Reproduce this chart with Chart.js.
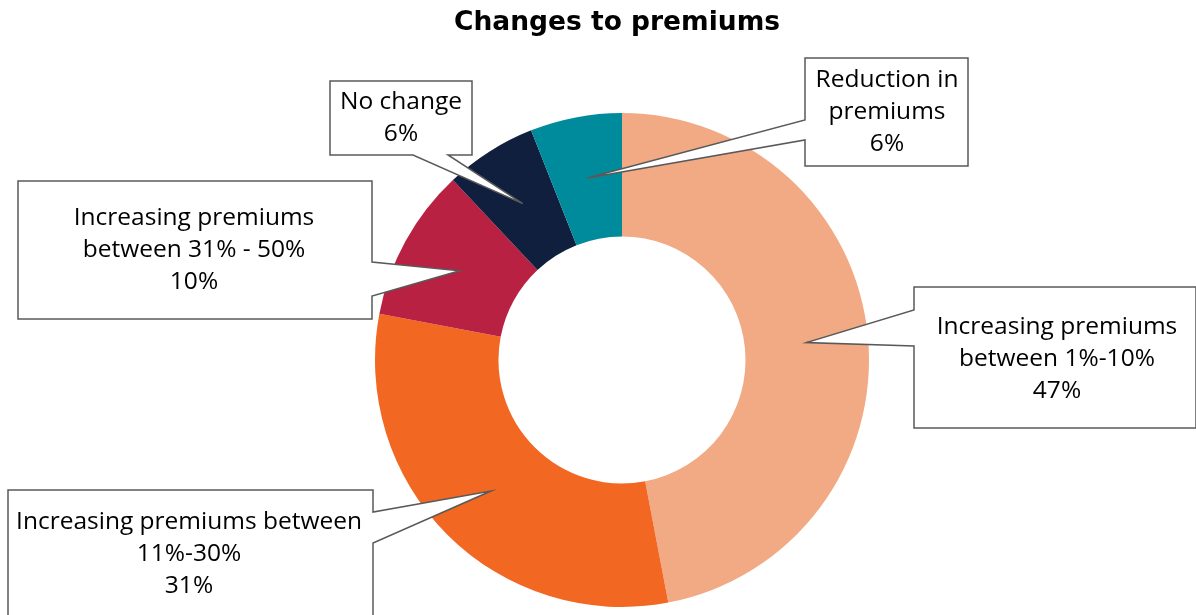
<!DOCTYPE html>
<html>
<head>
<meta charset="utf-8">
<script src="https://cdn.jsdelivr.net/npm/chart.js@4.4.1/dist/chart.umd.min.js"></script>
<style>
  html, body { margin: 0; padding: 0; background: #ffffff; }
  #wrap { width: 1196px; height: 615px; position: relative; }
</style>
</head>
<body>
<div id="wrap"><canvas id="chart" width="1196" height="615"></canvas></div>
<script>
// Survey answers, in drawing order (clockwise from 12 o'clock)
const categories = [
  'Increasing premiums between 1%-10%',
  'Increasing premiums between 11%-30%',
  'Increasing premiums between 31% - 50%',
  'No change',
  'Reduction in premiums'
];
const shares = [47, 31, 10, 6, 6];
const sliceColors = ['#F2AA84', '#F26722', '#B82142', '#0F1F3D', '#008B9C'];

// Callout text lines per slice
const calloutLines = [
  ['Increasing premiums', 'between 1%-10%', '47%'],
  ['Increasing premiums between', '11%-30%', '31%'],
  ['Increasing premiums', 'between 31% - 50%', '10%'],
  ['No change', '6%'],
  ['Reduction in', 'premiums', '6%']
];

// Callout box placement: box rect, side the pointer leaves from, and pointer base span
const calloutBoxes = [
  { x: 914, y: 287, w: 282, h: 141, side: 'left',   a: 310, b: 346, tx: 1057, ty: 327 },
  { x: 8,   y: 490, w: 365, h: 140, side: 'right',  a: 512, b: 543, tx: 189,  ty: 522 },
  { x: 18,  y: 181, w: 354, h: 138, side: 'right',  a: 262, b: 296, tx: 194,  ty: 218 },
  { x: 330, y: 81,  w: 142, h: 74,  side: 'bottom', a: 413, b: 448, tx: 401,  ty: 102 },
  { x: 805, y: 58,  w: 163, h: 108, side: 'left',   a: 120, b: 140, tx: 887,  ty: 80 }
];

const titleText = 'Changes to premiums';

const calloutPlugin = {
  id: 'callouts',
  afterDraw(chart) {
    const ctx = chart.ctx;
    const meta = chart.getDatasetMeta(0);
    ctx.save();
    // title
    ctx.fillStyle = '#000000';
    ctx.font = 'bold 26.5px "DejaVu Sans", sans-serif';
    ctx.textAlign = 'center';
    ctx.textBaseline = 'middle';
    ctx.fillText(titleText, 617, 23);

    meta.data.forEach((arc, i) => {
      const tip = arc.tooltipPosition();
      const bx = calloutBoxes[i];
      const x0 = bx.x, y0 = bx.y, x1 = bx.x + bx.w, y1 = bx.y + bx.h;
      ctx.beginPath();
      if (bx.side === 'left') {
        ctx.moveTo(x0, y0); ctx.lineTo(x1, y0); ctx.lineTo(x1, y1); ctx.lineTo(x0, y1);
        ctx.lineTo(x0, bx.b); ctx.lineTo(tip.x, tip.y); ctx.lineTo(x0, bx.a);
      } else if (bx.side === 'right') {
        ctx.moveTo(x0, y0); ctx.lineTo(x1, y0); ctx.lineTo(x1, bx.a); ctx.lineTo(tip.x, tip.y);
        ctx.lineTo(x1, bx.b); ctx.lineTo(x1, y1); ctx.lineTo(x0, y1);
      } else {
        ctx.moveTo(x0, y0); ctx.lineTo(x1, y0); ctx.lineTo(x1, y1); ctx.lineTo(bx.b, y1);
        ctx.lineTo(tip.x, tip.y); ctx.lineTo(bx.a, y1); ctx.lineTo(x0, y1);
      }
      ctx.closePath();
      ctx.fillStyle = '#ffffff';
      ctx.fill();
      ctx.strokeStyle = '#595959';
      ctx.lineWidth = 1.5;
      ctx.stroke();

      ctx.fillStyle = '#000000';
      ctx.font = '24.5px "Open Sans", sans-serif';
      ctx.textAlign = 'center';
      ctx.textBaseline = 'middle';
      calloutLines[i].forEach((line, k) => {
        ctx.fillText(line, bx.tx, bx.ty + k * 32);
      });
    });
    ctx.restore();
  }
};

new Chart(document.getElementById('chart'), {
  type: 'doughnut',
  data: {
    labels: categories,
    datasets: [{
      data: shares,
      backgroundColor: sliceColors,
      borderWidth: 0
    }]
  },
  options: {
    responsive: false,
    animation: false,
    cutout: '50%',
    layout: { padding: { top: 113, bottom: 8, left: 375, right: 327 } },
    plugins: {
      legend: { display: false },
      tooltip: { enabled: false },
      title: { display: false }
    }
  },
  plugins: [calloutPlugin]
});
</script>
</body>
</html>
